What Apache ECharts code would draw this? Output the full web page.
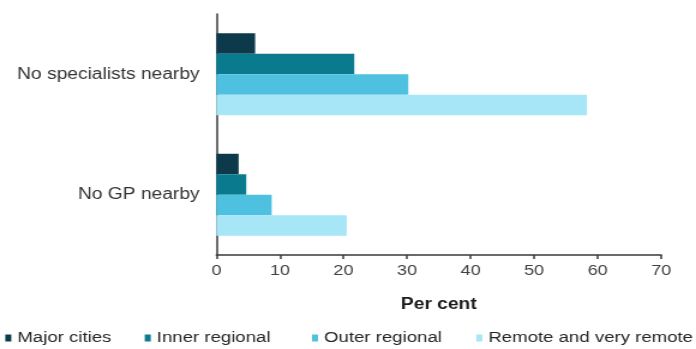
<!DOCTYPE html>
<html>
<head>
<meta charset="utf-8">
<script src="https://cdn.jsdelivr.net/npm/echarts@6/dist/echarts.min.js"></script>
<style>
  html, body { margin: 0; padding: 0; background: #ffffff; overflow: hidden; }
  /* the chart is laid out narrower and widened horizontally to give the wide lettering */
  #chart { width: 580px; height: 349px; transform: scaleX(1.2); transform-origin: 0 0; }
</style>
</head>
<body>
<div id="chart"></div>
<script>
// Reasons for not using health services, by remoteness (per cent)
const categories = ['No specialists nearby', 'No GP nearby'];
const seriesNames = ['Major cities', 'Inner regional', 'Outer regional', 'Remote and very remote'];
const majorCities = [6.1, 3.5];
const innerRegional = [21.7, 4.7];
const outerRegional = [30.2, 8.7];
const remoteVeryRemote = [58.3, 20.5];
const xTicks = [0, 10, 20, 30, 40, 50, 60, 70];

const colors = ['#0c3a4b', '#0a7a8e', '#4dc1df', '#a6e6f6'];
const values = [majorCities, innerRegional, outerRegional, remoteVeryRemote];
const legendLeft = [4.4, 120.6, 260, 396.9];
const FONT = '"Liberation Sans", Arial, sans-serif';

const chart = echarts.init(document.getElementById('chart'), null, { renderer: 'canvas' });

chart.setOption({
  animation: false,
  backgroundColor: '#ffffff',
  textStyle: { fontFamily: FONT },
  grid: { left: 180.3, right: 29, top: 14, bottom: 94, containLabel: false },
  legend: seriesNames.map((name, i) => ({
    data: [name],
    left: legendLeft[i],
    top: 330,
    padding: 0,
    icon: 'rect',
    itemWidth: 5,
    itemHeight: 7,
    selectedMode: false,
    textStyle: { fontFamily: FONT, fontSize: 15.5, color: '#262626' }
  })),
  xAxis: {
    type: 'value',
    min: xTicks[0],
    max: xTicks[xTicks.length - 1],
    interval: 10,
    name: 'Per cent',
    nameLocation: 'middle',
    nameGap: 42,
    nameTextStyle: { fontFamily: FONT, fontSize: 16, fontWeight: 'bold', color: '#1a1a1a' },
    axisLine: { show: true, lineStyle: { color: '#3a3a3a', width: 1.5 } },
    axisTick: { show: true, length: 4, inside: false, lineStyle: { color: '#3a3a3a', width: 1.5 } },
    axisLabel: { fontFamily: FONT, fontSize: 15, color: '#404040', margin: 8 },
    splitLine: { show: false }
  },
  yAxis: {
    type: 'category',
    data: categories,
    inverse: true,
    axisLine: { show: true, lineStyle: { color: '#3a3a3a', width: 1.5 } },
    axisTick: { show: false },
    axisLabel: { fontFamily: FONT, fontSize: 16, color: '#333333', margin: 14 },
    splitLine: { show: false }
  },
  series: seriesNames.map((name, i) => ({
    name: name,
    type: 'bar',
    data: values[i],
    barGap: '0%',
    barCategoryGap: '32%',
    itemStyle: { color: colors[i] },
    emphasis: { disabled: true }
  }))
});
</script>
</body>
</html>
